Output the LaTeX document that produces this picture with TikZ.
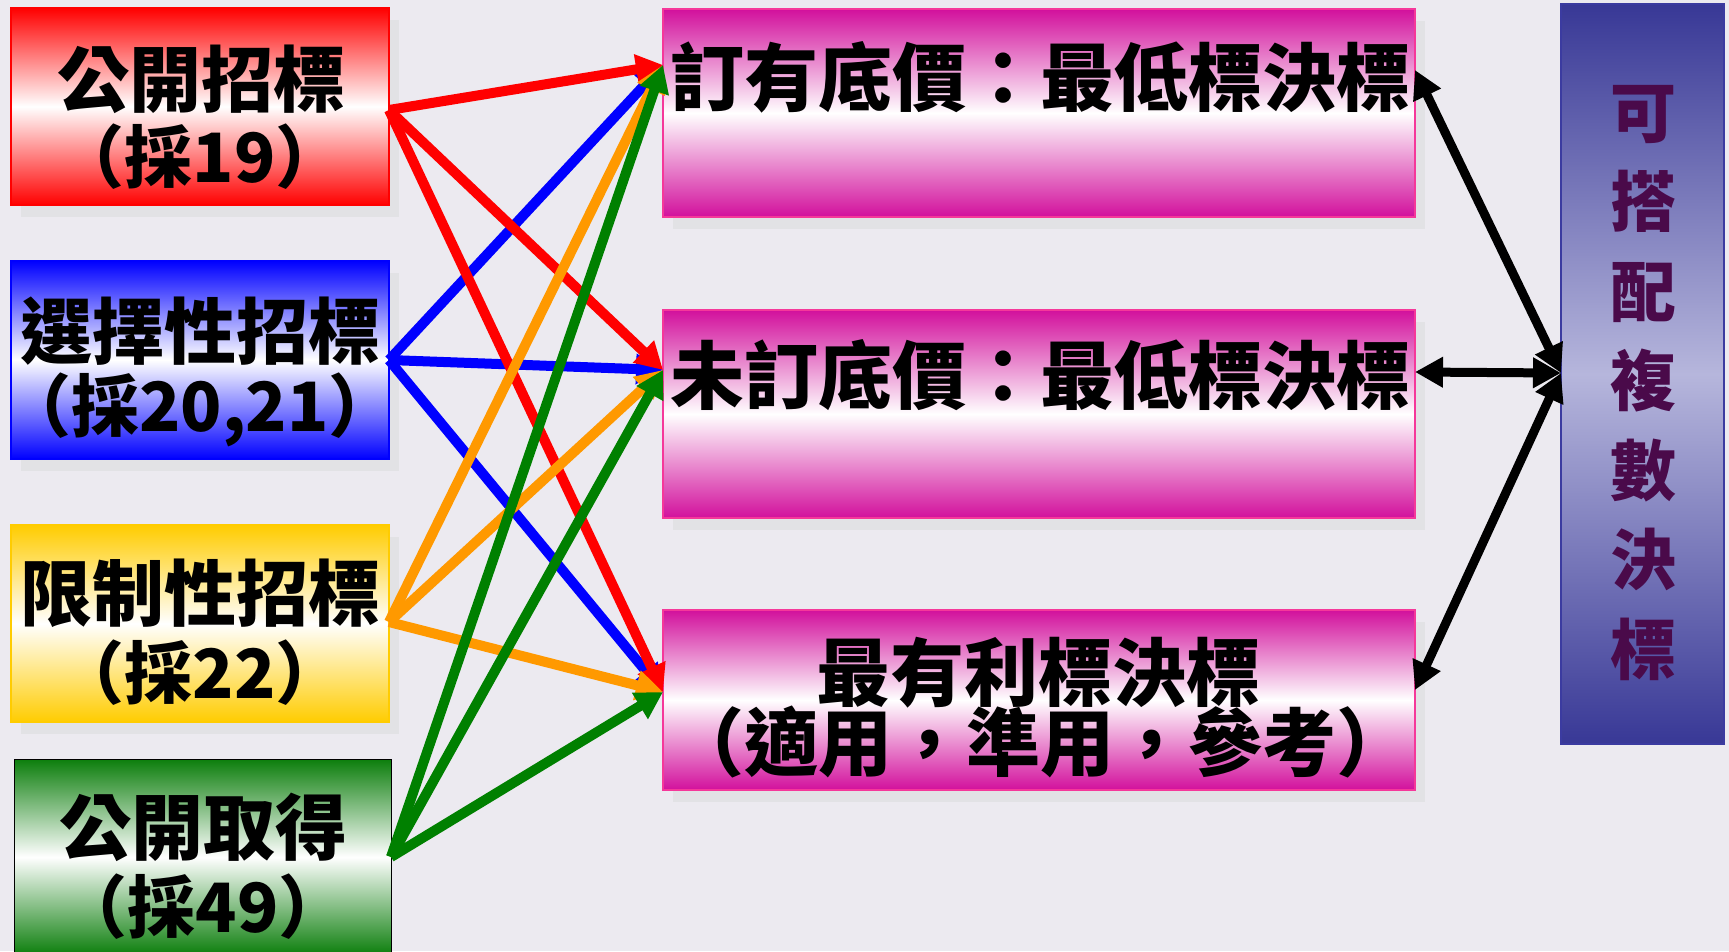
\documentclass[tikz,border=0pt]{standalone}
\usepackage{fontspec}
\setmainfont{Noto Sans CJK TC}
\usetikzlibrary{arrows.meta,shadows}
\definecolor{bg}{HTML}{ECEAF0}
\definecolor{shadowc}{HTML}{E2E2E5}
\definecolor{mag}{HTML}{D2109C}
\definecolor{magb}{HTML}{F5389A}
\definecolor{pur}{HTML}{383896}
\definecolor{purm}{HTML}{B6B6DC}
\definecolor{purb}{HTML}{3B3BA0}
\definecolor{purtext}{HTML}{4A0A4A}
\definecolor{ylw}{HTML}{FFCC00}
\definecolor{grn}{HTML}{0C7E0C}
\definecolor{org}{HTML}{FF9900}
\definecolor{agrn}{HTML}{008000}
\begin{document}
\begin{tikzpicture}[x=1pt,y=-1pt,
  box/.style={rectangle, inner sep=0pt, line width=1.5pt},
  shad/.style={drop shadow={shadow xshift=10pt,shadow yshift=-12pt,fill=shadowc,opacity=1}},
  lefttxt/.style={inner sep=0pt, font=\bfseries\fontsize{72}{80}\selectfont},
  lefttxtb/.style={inner sep=0pt, font=\bfseries\fontsize{68}{74}\selectfont},
  magtxt/.style={inner sep=0pt, font=\bfseries\fontsize{74}{80}\selectfont},
  conn/.style={line width=10pt, -{Triangle[length=27pt,width=29pt]}},
  bconn/.style={line width=9pt, black, {Triangle[length=28pt,width=29pt]}-{Triangle[length=28pt,width=29pt]}}
]
\useasboundingbox[fill=bg] (0,0) rectangle (1729,951);

% left boxes
\node[box, shad, draw=red, top color=red, bottom color=red, middle color=white,
  minimum width=378pt, minimum height=197pt] (pub) at (200,106.5) {};
\node[box, shad, draw=blue, top color=blue, bottom color=blue, middle color=white,
  minimum width=378pt, minimum height=198pt] (sel) at (200,360) {};
\node[box, shad, draw=ylw, top color=ylw, bottom color=ylw, middle color=white,
  minimum width=378pt, minimum height=197pt] (lim) at (200,623.5) {};
\node[box, draw=black, line width=1pt, top color=grn, bottom color=grn, middle color=white,
  minimum width=377pt, minimum height=196pt] (acq) at (202.5,857) {};

\node[lefttxt] (pubA) at (201,79) {公開招標};
\node[lefttxtb] (pubB) at (200,157) {（採19）};
\node[lefttxt] (selA) at (200,331) {選擇性招標};
\node[lefttxtb] (selB) at (200,410) {（採20,21）};
\node[lefttxt] (limA) at (200,593) {限制性招標};
\node[lefttxtb] (limB) at (200,673) {（採22）};
\node[lefttxt] (acqA) at (203,827) {公開取得};
\node[lefttxtb] (acqB) at (203,907) {（採49）};

% middle boxes
\node[box, shad, draw=magb, top color=mag, bottom color=mag, middle color=white,
  minimum width=752pt, minimum height=208pt] (m1) at (1039,113) {};
\node[box, shad, draw=magb, top color=mag, bottom color=mag, middle color=white,
  minimum width=752pt, minimum height=208pt] (m2) at (1039,414) {};
\node[box, shad, draw=magb, top color=mag, bottom color=mag, middle color=white,
  minimum width=752pt, minimum height=180pt] (m3) at (1039,700) {};

\node[magtxt] (m1t) at (1040,77) {訂有底價：最低標決標};
\node[magtxt] (m2t) at (1040,375) {未訂底價：最低標決標};
\node[magtxt] (m3a) at (1038,673) {最有利標決標};
\node[magtxt] (m3b) at (1040,742) {（適用，準用，參考）};

% right box
\node[box, draw=purb, line width=2pt, top color=pur, bottom color=pur, middle color=purm,
  minimum width=163pt, minimum height=740pt] (multi) at (1642.5,374) {};
\node[inner sep=0pt, align=center, text=purtext, font=\bfseries\fontsize{66}{89.5}\selectfont]
  (multit) at (1643,383) {可\\搭\\配\\複\\數\\決\\標};

% connector end points
\coordinate (s1) at (389,110);
\coordinate (s2) at (389,360);
\coordinate (s3) at (389,622);
\coordinate (s4) at (391,857);
\coordinate (t1) at (663,65);
\coordinate (t2) at (663,370);
\coordinate (t3) at (663,692);
\coordinate (u1) at (1415,70);
\coordinate (u2) at (1415,372);
\coordinate (u3) at (1415,690);
\coordinate (v) at (1561,373);

% colored connectors
\foreach \t in {t1,t2,t3} \draw[conn, blue] (s2) -- (\t);
\foreach \t in {t1,t2,t3} \draw[conn, red] (s1) -- (\t);
\foreach \t in {t1,t2,t3} \draw[conn, org] (s3) -- (\t);
\foreach \t in {t1,t2,t3} \draw[conn, agrn] (s4) -- (\t);

% black connectors
\draw[bconn] (u1) -- (v);
\draw[bconn] (u2) -- (v);
\draw[bconn] (u3) -- (v);
\end{tikzpicture}
\end{document}
